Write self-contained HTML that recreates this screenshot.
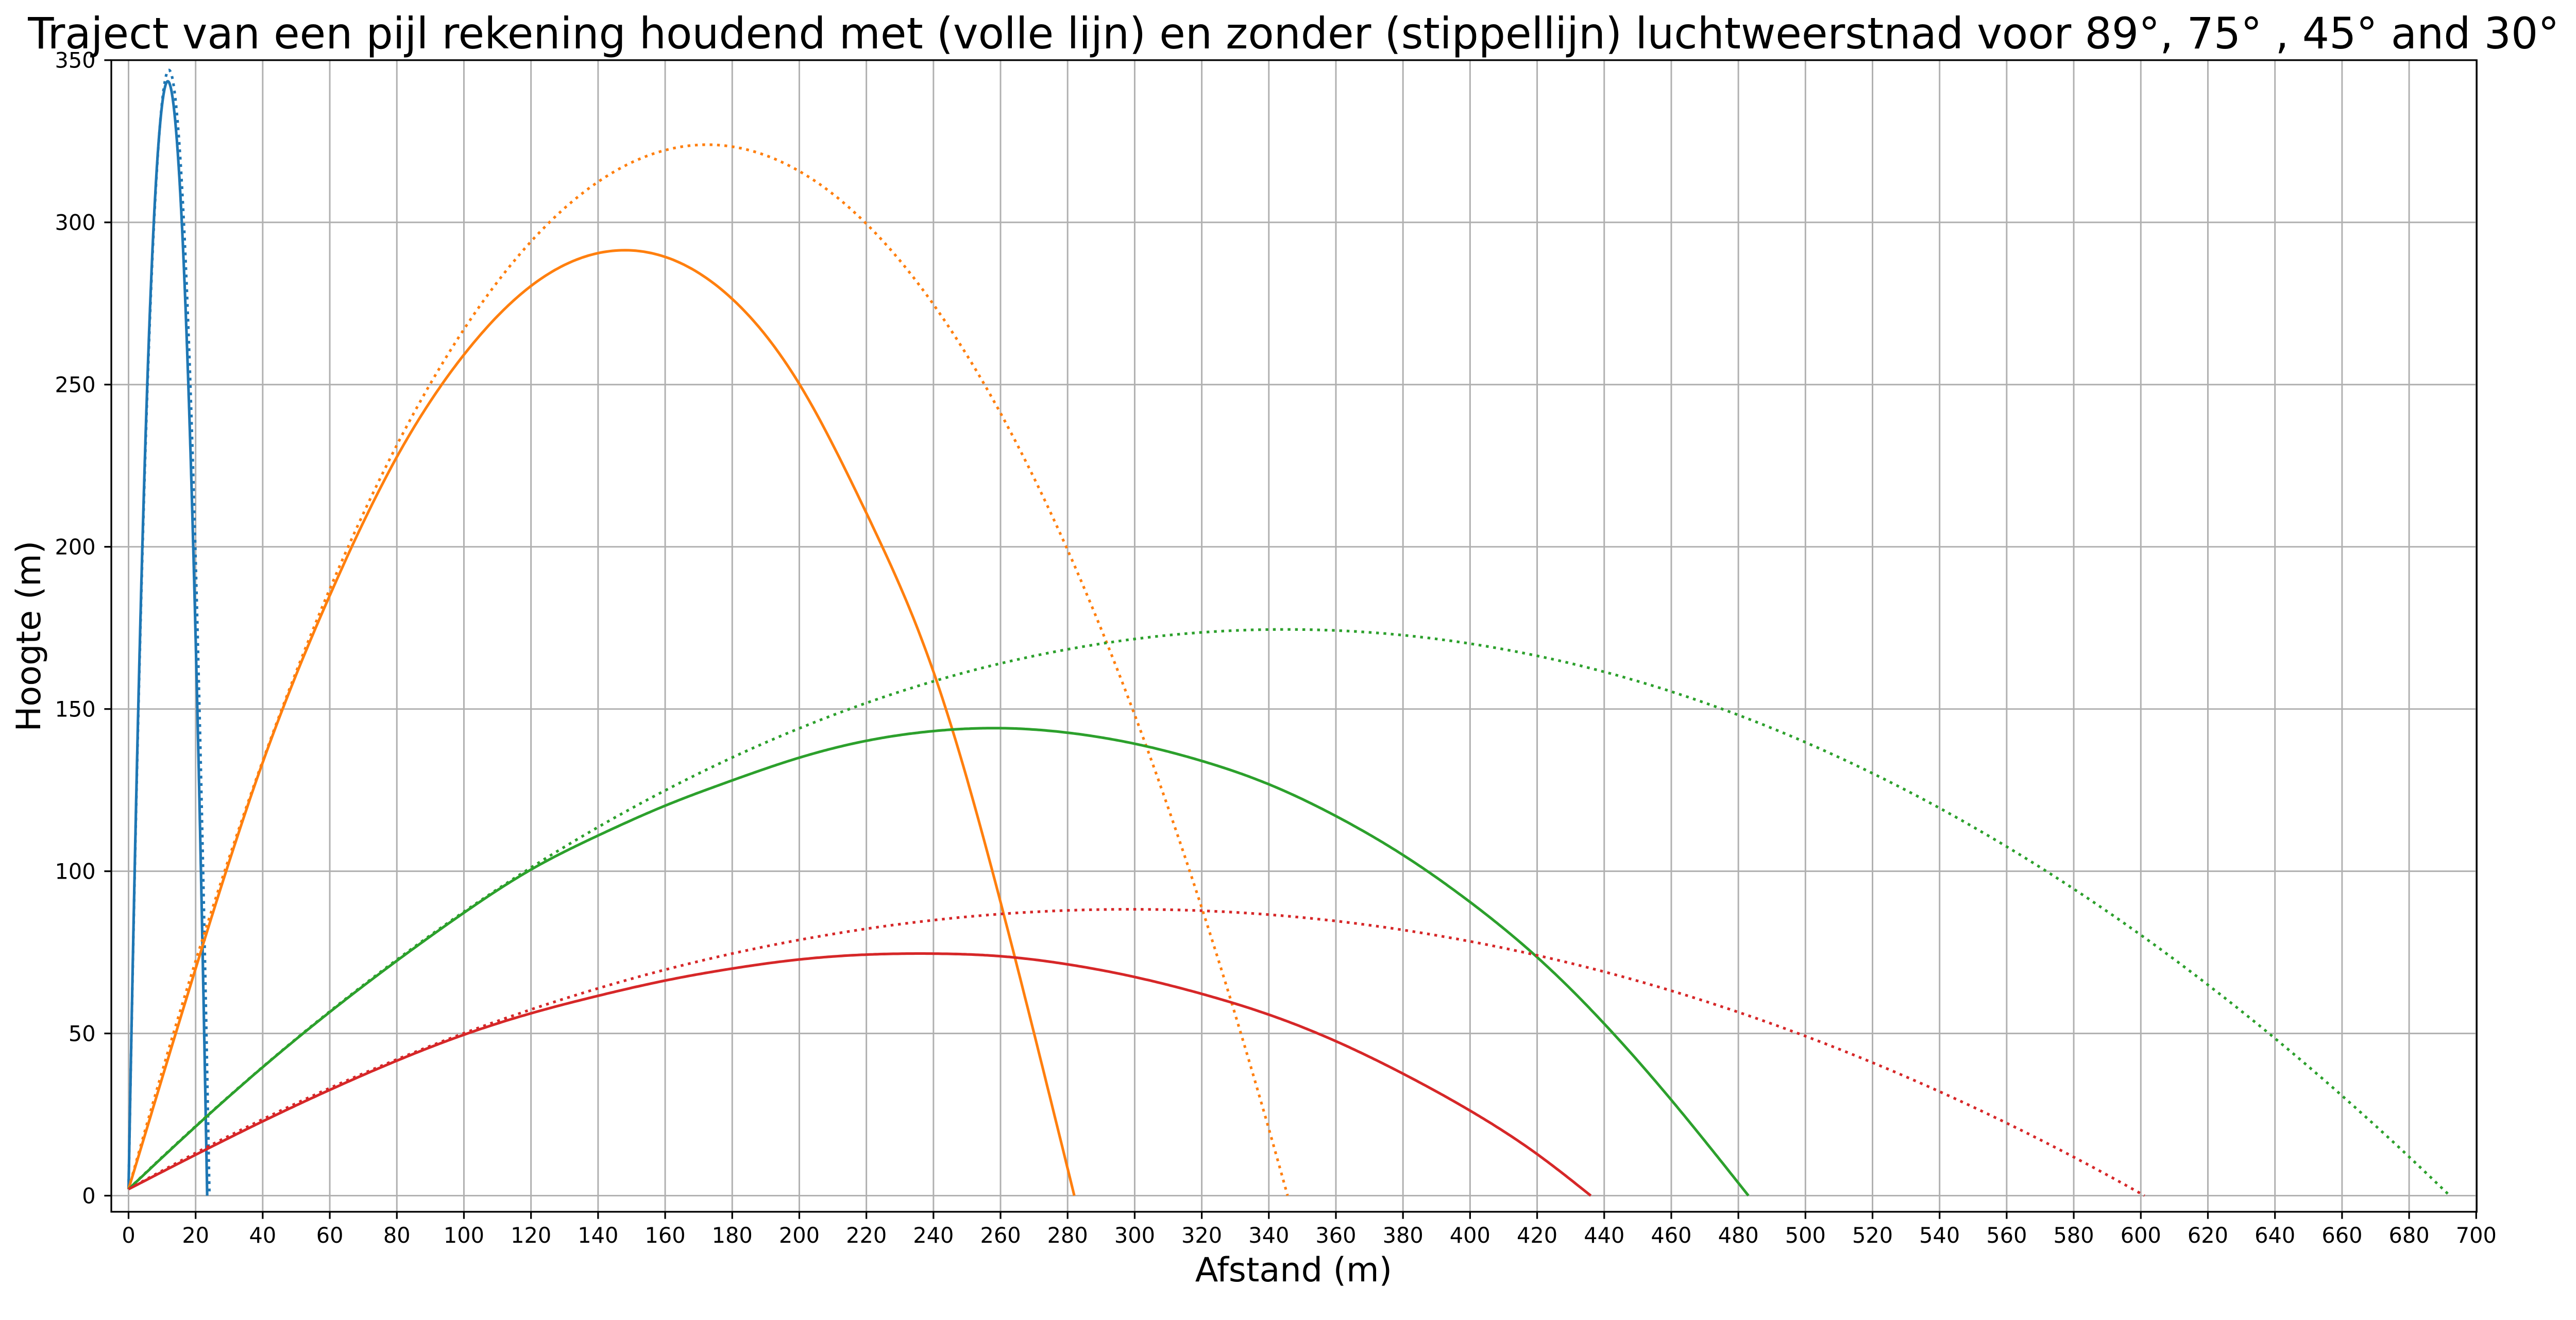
<!DOCTYPE html>
<html><head><meta charset="utf-8"><style>
html,body{margin:0;padding:0;background:#fff;overflow:hidden;}
svg{display:block;width:100vw;height:50.612vw;}
text{font-family:"DejaVu Sans","Liberation Sans",sans-serif;fill:#000;}
</style></head><body>
<svg id="s" width="5064" height="2563" viewBox="0 0 5064 2563" preserveAspectRatio="none" xmlns="http://www.w3.org/2000/svg">
<rect width="5064" height="2563" fill="#fff"/>
<g id="grid"></g>
<g id="curves"></g>
<rect x="218.8" y="118.3" width="4650" height="2264.7" fill="none" stroke="#000" stroke-width="3.3"/>
<g id="ticks"></g>
<text x="2543" y="95" font-size="85" text-anchor="middle" textLength="4976" lengthAdjust="spacingAndGlyphs">Traject van een pijl rekening houdend met (volle lijn) en zonder (stippellijn) luchtweerstnad voor 89°, 75° , 45° and 30°</text>
<text x="2543" y="2520" font-size="66" text-anchor="middle">Afstand (m)</text>
<text transform="translate(79,1251) rotate(-90)" font-size="66" text-anchor="middle">Hoogte (m)</text>
</svg>
<script>
var NS="http://www.w3.org/2000/svg";
var x0=252.7,sx=6.593,y0=2351.3,sy=6.38;
function X(v){return x0+v*sx;} function Y(v){return y0-v*sy;}
function el(p,tag,a,txt){var e=document.createElementNS(NS,tag);for(var k in a)e.setAttribute(k,a[k]);if(txt!==undefined)e.textContent=txt;p.appendChild(e);return e;}
var g=document.getElementById('grid'),t=document.getElementById('ticks'),c=document.getElementById('curves');
for(var v=0;v<=700;v+=20){var px=X(v);
 el(g,'line',{x1:px,x2:px,y1:118.3,y2:2383,stroke:'#b0b0b0','stroke-width':3});
 el(t,'line',{x1:px,x2:px,y1:2383,y2:2397,stroke:'#000','stroke-width':3.3});
 el(t,'text',{x:px,y:2444,'font-size':42,'text-anchor':'middle'},String(v));}
for(var v=0;v<=350;v+=50){var py=Y(v);
 el(g,'line',{x1:218.8,x2:4868.8,y1:py,y2:py,stroke:'#b0b0b0','stroke-width':3});
 el(t,'line',{x1:205,x2:218.8,y1:py,y2:py,stroke:'#000','stroke-width':3.3});
 el(t,'text',{x:188,y:py+15,'font-size':42,'text-anchor':'end'},String(v));}
var V2=6770,G=9.81,H0=2;
function para(deg,fx,fy){var th=deg*Math.PI/180,ta=Math.tan(th),cc=Math.cos(th)*Math.cos(th);
 var a=G/(2*V2*cc);var R=(ta+Math.sqrt(ta*ta+4*a*H0))/(2*a);var d='';var N=600;
 for(var i=0;i<=N;i++){var x=R*i/N;var y=H0+x*ta-a*x*x;if(y<0)y=0;d+=(i?'L':'M')+X(x*fx).toFixed(1)+' '+Y(y*fy).toFixed(1);}return d;}
function spline(P){var n=P.length,xs=P.map(function(p){return p[0]}),ys=P.map(function(p){return p[1]});
 var h=[],al=[],l=[1],mu=[0],z=[0],cc=new Array(n).fill(0),b=[],d=[];
 for(var i=0;i<n-1;i++)h[i]=xs[i+1]-xs[i];
 for(var i=1;i<n-1;i++)al[i]=3/h[i]*(ys[i+1]-ys[i])-3/h[i-1]*(ys[i]-ys[i-1]);
 for(var i=1;i<n-1;i++){l[i]=2*(xs[i+1]-xs[i-1])-h[i-1]*mu[i-1];mu[i]=h[i]/l[i];z[i]=(al[i]-h[i-1]*z[i-1])/l[i];}
 z[n-1]=0;cc[n-1]=0;
 for(var j=n-2;j>=0;j--){cc[j]=z[j]-mu[j]*cc[j+1];b[j]=(ys[j+1]-ys[j])/h[j]-h[j]*(cc[j+1]+2*cc[j])/3;d[j]=(cc[j+1]-cc[j])/(3*h[j]);}
 var s='M'+X(xs[0]).toFixed(1)+' '+Y(ys[0]).toFixed(1);
 for(var j=0;j<n-1;j++){for(var k=1;k<=30;k++){var dx=h[j]*k/30;var y=ys[j]+b[j]*dx+cc[j]*dx*dx+d[j]*dx*dx*dx;s+='L'+X(xs[j]+dx).toFixed(1)+' '+Y(Math.max(y,0)).toFixed(1);}}
 return s;}
var cols={b:'#1f77b4',o:'#ff7f0e',g:'#2ca02c',r:'#d62728'};
var solid={
 o:[[0,2],[20,70],[40,133.5],[60,185],[80,227.7],[100,259.2],[120,280.4],[147,291.4],[180,276.4],[200,250.2],[220,210.4],[240,161.5],[260,90.5],[282,0]],
 g:[[0,2],[20,21.3],[40,39.6],[60,56.6],[80,72.4],[100,87.2],[120,100.5],[140,111],[160,120.2],[180,128],[200,135],[220,140.2],[240,143.2],[260,144.1],[280,142.7],[300,139.3],[320,134],[340,126.8],[360,117],[380,105],[400,90.5],[420,73.5],[440,53],[460,29.5],[483,0]],
 r:[[0,2],[20,12.6],[40,22.9],[60,32.6],[80,41.6],[100,49.6],[120,56.2],[140,61.6],[160,66.3],[180,70],[200,72.8],[220,74.3],[240,74.6],[260,73.8],[280,71.3],[300,67.4],[320,62.2],[340,55.8],[360,47.6],[380,37.6],[400,26.2],[420,12.8],[436,0]]};
var ang={b:89,o:75,g:45,r:30};
['b','o','g','r'].forEach(function(k){
 el(c,'path',{d:para(ang[k],1,1),fill:'none',stroke:cols[k],'stroke-width':5.2,'stroke-dasharray':'5.5 9'});
 var d=k=='b'?para(89,0.972,0.99):spline(solid[k]);
 el(c,'path',{d:d,fill:'none',stroke:cols[k],'stroke-width':5.2,'stroke-linejoin':'round'});
});
</script>
</body></html>
